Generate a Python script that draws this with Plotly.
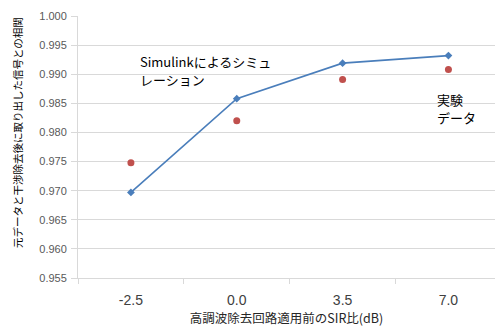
import plotly.graph_objects as go

# SIR before the harmonic-removal circuit (dB), shown as categories
sir_labels = ["-2.5", "0.0", "3.5", "7.0"]
# correlation between the original data and the recovered signal
simulink_corr = [0.9697, 0.9858, 0.9919, 0.9932]
experiment_corr = [0.9748, 0.9820, 0.9891, 0.9908]

y_ticks = [0.955, 0.960, 0.965, 0.970, 0.975, 0.980, 0.985, 0.990, 0.995, 1.000]

grid = "#d9d9d9"
font_jp = "Noto Sans CJK JP"

fig = go.Figure()
fig.add_trace(go.Scatter(
    x=sir_labels, y=simulink_corr, mode="lines+markers",
    line=dict(color="#4a7ebb", width=1.6),
    marker=dict(symbol="diamond", size=6, color="#4a7ebb"),
    name="Simulink", showlegend=False,
))
fig.add_trace(go.Scatter(
    x=sir_labels, y=experiment_corr, mode="markers",
    marker=dict(symbol="circle", size=7, color="#c0504d"),
    name="実験データ", showlegend=False,
))

# in-plot labels, one annotation per text line
label_lines = [
    ("Simulinkによるシミュ", 0.08, 0.99227),
    ("レーション", 0.08, 0.98918),
    ("実験", 2.88, 0.98574),
    ("データ", 2.88, 0.98265),
]
for txt, xv, yv in label_lines:
    fig.add_annotation(x=xv, y=yv, xref="x", yref="y", text=txt,
                       showarrow=False, xanchor="left", yanchor="middle",
                       borderpad=0,
                       font=dict(family=font_jp, size=13, color="#000000"))

# rotated y-axis title
fig.add_annotation(x=0, y=0.553, xref="paper", yref="paper", xshift=-61,
                   text="元データと干渉除去後に取り出した信号との相関",
                   textangle=-90, showarrow=False,
                   xanchor="center", yanchor="middle",
                   font=dict(family=font_jp, size=10.5, color="#000000"))

fig.update_layout(
    width=495, height=328,
    margin=dict(l=78, r=0, t=16, b=50),
    paper_bgcolor="white", plot_bgcolor="white",
    font=dict(family=font_jp),
    xaxis=dict(
        type="category", range=[-0.5, 3.44],
        tickson="boundaries", ticks="outside", ticklen=5, tickcolor=grid,
        showgrid=False, showline=True, linecolor=grid, linewidth=1,
        ticklabelstandoff=9,
        tickfont=dict(family="Liberation Sans", size=14, color="#404040"),
        title=dict(text="高調波除去回路適用前のSIR比(dB)",
                   font=dict(family=font_jp, size=12.5, color="#262626"),
                   standoff=3),
    ),
    yaxis=dict(
        range=[0.955, 1.000], tickvals=y_ticks,
        ticktext=[f"{v:.3f}" for v in y_ticks],
        showgrid=True, gridcolor=grid, gridwidth=1,
        ticks="outside", ticklen=6, tickcolor=grid,
        showline=True, linecolor=grid, zeroline=False,
        ticklabelstandoff=2,
        tickfont=dict(family="Liberation Sans", size=11, color="#595959"),
    ),
)

fig.write_html("out.html")
